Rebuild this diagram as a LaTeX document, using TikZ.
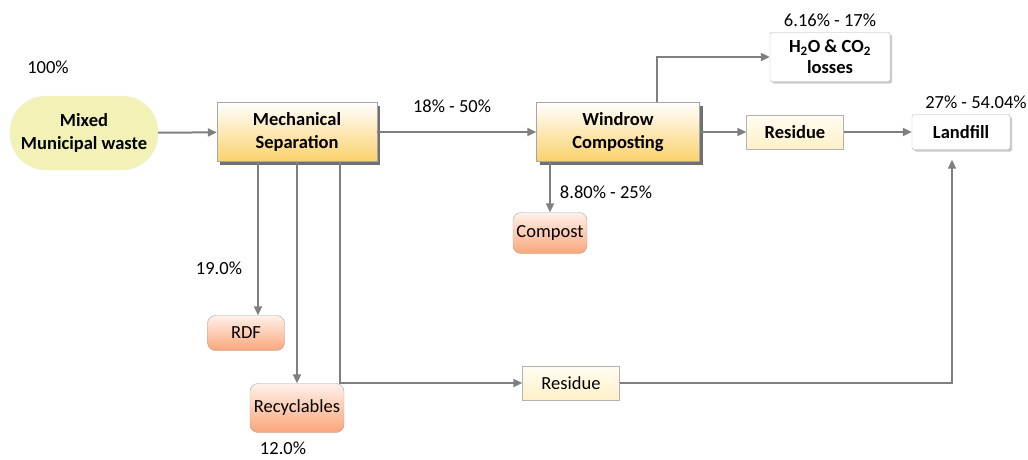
\documentclass[tikz,border=0pt]{standalone}
\usepackage{fontspec}
\setmainfont{Carlito}
\usepackage{tikz}
\usetikzlibrary{arrows.meta, positioning, calc, shadows}

\definecolor{pillfill}{HTML}{F2F2B6}
\definecolor{stagebot}{HTML}{FBD16A}
\definecolor{prodtop}{HTML}{FFF1EA}
\definecolor{prodbot}{HTML}{FAA679}
\definecolor{restop}{HTML}{FFFDF2}
\definecolor{resbot}{HTML}{FEF0C8}
\definecolor{flowgray}{HTML}{7F7F7F}

\begin{document}
\begin{tikzpicture}[
        x=1pt, y=-1pt,
        txt/.style={font=\fontsize{18.5}{21}\selectfont},
        bold/.style={font=\fontsize{18.5}{23}\selectfont\bfseries},
        feed/.style={rectangle, rounded corners=36pt, fill=pillfill, draw=pillfill!90!black!40,
            minimum width=148pt, minimum height=74pt, align=center, bold},
        stage/.style={rectangle, draw=gray!70, top color=white, bottom color=stagebot,
            minimum width=160pt, minimum height=59pt, align=center, bold,
            drop shadow={shadow xshift=3pt, shadow yshift=-3pt, fill=black!70, opacity=0.8}},
        resid/.style={rectangle, draw=gray!60, top color=restop, bottom color=resbot,
            minimum width=97pt, minimum height=34pt, txt},
        sink/.style={rectangle, rounded corners=2pt, draw=gray!60, fill=white, align=center, bold,
            drop shadow={shadow xshift=2pt, shadow yshift=-2pt, fill=black!35, opacity=0.6}},
        prod/.style={rectangle, rounded corners=8pt, draw=gray!70, top color=prodtop, bottom color=prodbot, txt},
        pct/.style={txt},
        flow/.style={-{Triangle[length=9pt, width=8pt]}, draw=flowgray, line width=2pt},
    ]
        \useasboundingbox (0,0) rectangle (1028,459);

        % process chain
        \node[feed] (mixed) at (84,133) {Mixed\\Municipal waste};
        \node[stage] (mech) at (297,132) {Mechanical\\Separation};
        \node[stage, minimum width=163pt] (wind) at (618,132) {Windrow\\Composting};
        \node[resid, bold] (res1) at (795,132) {Residue};
        \node[sink, minimum width=98pt, minimum height=35pt] (fill) at (961,132) {Landfill};
        \node[sink, minimum width=120pt, minimum height=49pt, font=\fontsize{18.5}{21}\selectfont\bfseries]
            (loss) at (830,57) {H\textsubscript{2}O \& CO\textsubscript{2}\\losses};

        % outputs
        \node[prod, minimum width=74pt, minimum height=41pt] (comp) at (550,233) {Compost};
        \node[prod, minimum width=77pt, minimum height=35pt] (rdf) at (246,333) {RDF};
        \node[prod, minimum width=94pt, minimum height=49pt] (recy) at (297,408) {Recyclables};
        \node[resid] (res2) at (571,383) {Residue};

        % shares
        \node[pct] (pmix) at (48,67) {100\%};
        \node[pct] (pwind) at (452,106) {18\% - 50\%};
        \node[pct] (pcomp) at (606,192) {8.80\% - 25\%};
        \node[pct] (ploss) at (830,20) {6.16\% - 17\%};
        \node[pct] (pfill) at (976,102) {27\% - 54.04\%};
        \node[pct] (prdf) at (219,268) {19.0\%};
        \node[pct] (precy) at (283,448) {12.0\%};

        \draw[flow] (mixed) -- (mech);
        \draw[flow] (mech) -- (wind);
        \draw[flow] ([xshift=39pt]wind.north) |- (loss);
        \draw[flow] (wind) -- (res1);
        \draw[flow] (res1) -- (fill);
        \draw[flow] ([xshift=-68pt]wind.south) -- (comp.north);
        \draw[flow] ([xshift=-39pt]mech.south) coordinate (rdfout) -- (rdfout |- rdf.north);
        \draw[flow] (mech.south) -- (recy.north);
        \draw[flow] ([xshift=43pt]mech.south) |- (res2.west);
        \draw[flow] (res2.east) -| ([xshift=-9pt, yshift=-10pt]fill.south);
    \end{tikzpicture}
\end{document}
